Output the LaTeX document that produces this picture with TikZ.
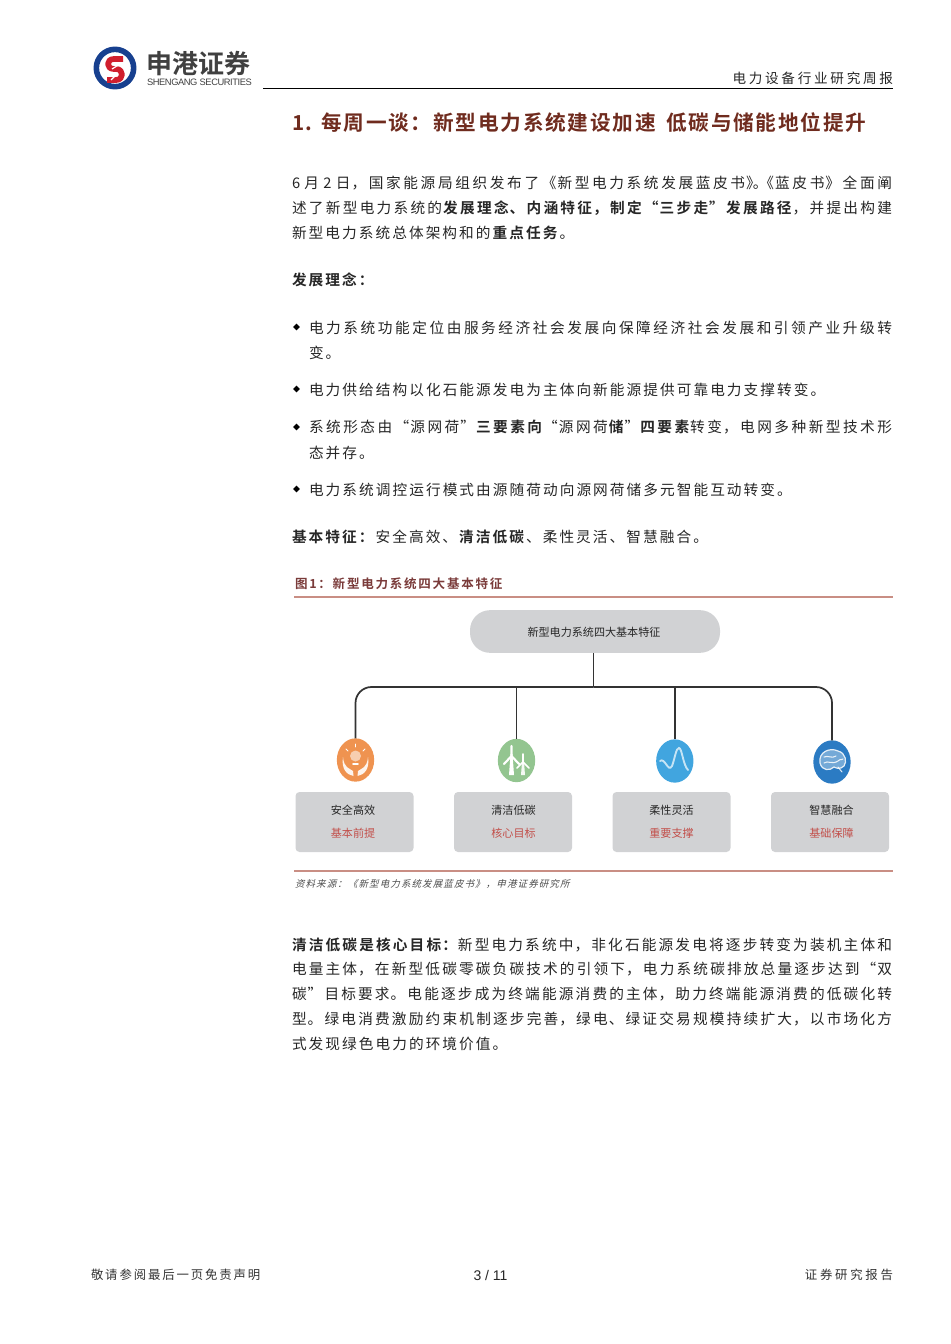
\documentclass[tikz,border=0pt]{standalone}
\usepackage{fontspec}
\usetikzlibrary{shapes.geometric,positioning}
\setmainfont{Noto Sans CJK SC}[BoldFont={Noto Sans CJK SC Bold}]
\newfontfamily\bodyfont{Noto Sans CJK SC}[LetterSpace=14,BoldFont={Noto Sans CJK SC Bold}]
\newfontfamily\fullfont{Noto Sans CJK SC}[LetterSpace=7,BoldFont={Noto Sans CJK SC Bold}]
\newfontfamily\titlefont{Noto Sans CJK SC Bold}[LetterSpace=8.5]
\newfontfamily\capfont{Noto Sans CJK SC Bold}[LetterSpace=14]
\newfontfamily\srcfont{Noto Sans CJK SC}[LetterSpace=12,FakeSlant=0.25]
\newfontfamily\footfont{Noto Sans CJK SC}[LetterSpace=15]
\newfontfamily\headfont{Noto Sans CJK SC}[LetterSpace=20]
\newfontfamily\latinfont{Liberation Sans}
\definecolor{boxgray}{HTML}{D1D2D4}
\definecolor{capred}{HTML}{7A3B3A}
\definecolor{rulered}{HTML}{C98E84}
\definecolor{titlered}{HTML}{6F2B1E}
\definecolor{tagred}{HTML}{C24F4A}
\definecolor{logoblue}{HTML}{17408F}
\definecolor{logored}{HTML}{D01F2E}
\definecolor{safeorange}{HTML}{EF9350}
\definecolor{cleangreen}{HTML}{93C590}
\definecolor{flexblue}{HTML}{41A5DF}
\definecolor{smartblue}{HTML}{2B7BC3}
\tikzset{every node/.style={inner sep=0pt,outer sep=0pt},
         body line/.style={anchor=base west,font=\bodyfont\fontsize{11pt}{12pt}\selectfont,text=black!85},
         full line/.style={anchor=base west,text width=#1,align=justify,font=\fullfont\fontsize{11pt}{12pt}\selectfont,text=black!85,
                           execute at begin node={\XeTeXlinebreaklocale "zh"\XeTeXlinebreakskip=0pt plus 1fil\parfillskip=0pt\relax}},
         bullet mark/.style={diamond,fill=black,minimum size=5pt},
         top box/.style={rectangle,rounded corners=15pt,fill=boxgray,minimum width=187.5pt,minimum height=32pt},
         feature box/.style={rectangle,rounded corners=3pt,fill=boxgray,minimum width=88.5pt,minimum height=45pt},
         icon disc/.style={ellipse,minimum width=28pt,minimum height=32.5pt},
         box name/.style={font=\fontsize{8.3pt}{10pt}\selectfont,text=black!85},
         box tag/.style={font=\fontsize{8.3pt}{10pt}\selectfont,text=tagred},
         link/.style={black!80,line width=1.3pt},
         icon line/.style={white,line width=1pt,line cap=round,line join=round},
}
\begin{document}
\begin{tikzpicture}[x=0.75pt,y=-0.75pt]
\useasboundingbox (0,0) rectangle (950,1344);

% header
\node[circle,draw=logoblue,line width=4.2pt,fill=white,minimum size=28pt] (ring) at (115,68) {};
\draw[logored,line width=4.3pt,line join=round] (123,59) -- (114,59) .. controls (106,59) and (106,69) .. (114,69) -- (116,69) .. controls (124,69) and (124,80) .. (116,80) -- (107,80);
\draw[white,line width=0.9pt] (112,69) -- (120,64);
\draw[white,line width=0.9pt] (111,80) -- (116,75);
\node[anchor=base west,font=\bfseries\fontsize{19.5pt}{22pt}\selectfont,text=black!75] (logozh) at (146,74) {申港证券};
\node[anchor=base west,font=\latinfont\fontsize{7pt}{8pt}\selectfont,text=black!75] (logoen) at (147,86) {\addfontfeature{LetterSpace=-4.5}SHENGANG SECURITIES};
\node[anchor=base east,font=\headfont\fontsize{10.2pt}{12pt}\selectfont,text=black!85] (headr) at (893,84) {电力设备行业研究周报};
\coordinate (ruleL) at (263,88.5);
\coordinate (ruleR) at (893,88.5);
\draw[black,line width=0.8pt] (ruleL) -- (ruleR);

% text
\node[anchor=base west,font=\titlefont\fontsize{15.5pt}{18pt}\selectfont,text=titlered] (title) at (292,131) {1. 每周一谈：新型电力系统建设加速\kern3pt{} 低碳与储能地位提升};
\node[full line=450pt] (p1) at (292,189) {6 月 2 日，国家能源局组织发布了《新型电力系统发展蓝皮书》\kern-6pt。\kern-6pt《蓝皮书》全面阐};
\node[full line=450pt] (p2) at (292,214) {述了新型电力系统的\textbf{发展理念、内涵特征，制定“三步走”发展路径}，并提出构建};
\node[body line] (p3) at (292,239) {新型电力系统总体架构和的\textbf{重点任务}。};
\node[body line] (h1) at (292,286) {\textbf{发展理念：}};
\node[bullet mark] (b1) at (296.5,327) {};
\node[full line=437.25pt] (l1) at (309,333) {电力系统功能定位由服务经济社会发展向保障经济社会发展和引领产业升级转};
\node[body line] (l2) at (309,358) {变。};
\node[bullet mark] (b2) at (296.5,389) {};
\node[body line] (l3) at (309,395) {电力供给结构以化石能源发电为主体向新能源提供可靠电力支撑转变。};
\node[bullet mark] (b3) at (296.5,427) {};
\node[full line=437.25pt] (l4) at (309,432) {系统形态由“源网荷”\textbf{三要素向}“源网荷\textbf{储}”\textbf{四要素}转变，电网多种新型技术形};
\node[body line] (l5) at (309,458) {态并存。};
\node[bullet mark] (b4) at (296.5,489) {};
\node[body line] (l6) at (309,495) {电力系统调控运行模式由源随荷动向源网荷储多元智能互动转变。};
\node[body line] (h2) at (292,542) {\textbf{基本特征：}安全高效、\textbf{清洁低碳}、柔性灵活、智慧融合。};

% figure
\node[anchor=base west,font=\capfont\fontsize{9.4pt}{11pt}\selectfont,text=capred] (cap) at (295,588) {图1：新型电力系统四大基本特征};
\coordinate (capL) at (294,597);
\coordinate (capR) at (893,597);
\draw[rulered,line width=0.8pt] (capL) -- (capR);

\node[top box] (top) at (595,631.5) {};
\node[box name] (toptext) at (594,632) {新型电力系统四大基本特征};

\node[icon disc,fill=safeorange] (safe) at (355.5,760) {};
\node[icon disc,fill=cleangreen] (clean) at (516.5,760.5) {};
\node[icon disc,fill=flexblue] (flex) at (674.8,761) {};
\node[icon disc,fill=smartblue] (smart) at (832,762) {};

\coordinate (hub) at (593.5,687);
\draw[link] (top.south -| hub) -- (hub);
\draw[link,rounded corners=12pt] (hub) -| (safe.north);
\draw[link,rounded corners=12pt] (hub) -| (smart.north);
\draw[link] (hub -| clean.north) -- (clean.north);
\draw[link] (hub -| flex.north) -- (flex.north);

% icons
\fill[white,opacity=0.55] (355.5,756) circle[radius=5.5];
\draw[icon line,line width=1.4pt] (353,764) -- (358,764);
\fill[white,opacity=0.9] (343,757) .. controls (344,768) and (349,768) .. (353,771) -- (353.5,776) .. controls (347,775) and (341,769) .. (343,757);
\fill[white,opacity=0.9] (368,757) .. controls (367,768) and (362,768) .. (358,771) -- (357.5,776) .. controls (364,775) and (370,769) .. (368,757);
\draw[icon line,line width=0.7pt] (355.5,744) -- (355.5,747);
\draw[icon line,line width=0.7pt] (346,749) -- (348,751);
\draw[icon line,line width=0.7pt] (365,749) -- (363,751);

\fill[white] (510.5,754) -- (512.5,754) -- (514,775) -- (509,775) -- cycle;
\draw[icon line,line width=1.6pt] (511.5,746) -- (511.5,756) (504,764) -- (511.5,756) -- (519,764);
\fill[white,opacity=0.9] (522,762) -- (524,762) -- (525,775) -- (521,775) -- cycle;
\draw[icon line,line width=1.2pt] (523,754) -- (523,763) (517,768) -- (523,762) -- (529,768);

\draw[white,opacity=0.7,line width=1.4pt,line cap=round] (660,761) .. controls (665,757) and (668,773) .. (672,766) .. controls (675,758) and (676,748) .. (679,748) .. controls (682,748) and (683,765) .. (688,770);

\fill[white,opacity=0.35] (820,763) .. controls (818,752) and (830,747) .. (838,751) .. controls (846,753) and (847,762) .. (844,766) .. controls (840,770) and (836,768) .. (834,767) .. controls (830,771) and (822,771) .. (820,763);
\draw[icon line,line width=0.9pt,opacity=0.85] (820,763) .. controls (818,752) and (830,747) .. (838,751) .. controls (846,753) and (847,762) .. (844,766) .. controls (840,770) and (836,768) .. (834,767) .. controls (830,771) and (822,771) .. (820,763);
\draw[icon line,line width=0.8pt,opacity=0.85] (824,757) .. controls (828,755) and (832,759) .. (836,756) (824,763) .. controls (828,760) and (832,765) .. (838,761) (838,761) .. controls (841,758) and (842,761) .. (843,759) (838,767) -- (842,772);

\node[feature box] (boxa) at (354.5,822) {};
\node[feature box] (boxb) at (513,822) {};
\node[feature box] (boxc) at (671.5,822) {};
\node[feature box] (boxd) at (830,822) {};
\node[box name] (namea) at (353,810.5) {安全高效};
\node[box tag] (taga) at (353,833.5) {基本前提};
\node[box name] (nameb) at (513.5,810.5) {清洁低碳};
\node[box tag] (tagb) at (513.5,833.5) {核心目标};
\node[box name] (namec) at (671.5,810.5) {柔性灵活};
\node[box tag] (tagc) at (671.5,833.5) {重要支撑};
\node[box name] (named) at (831.5,810.5) {智慧融合};
\node[box tag] (tagd) at (831.5,833.5) {基础保障};

\coordinate (srcL) at (294,871);
\coordinate (srcR) at (893,871);
\draw[rulered,line width=0.8pt] (srcL) -- (srcR);
\node[anchor=base west,font=\srcfont\fontsize{7.1pt}{9pt}\selectfont,text=black!70] (src) at (295,887) {资料来源：《新型电力系统发展蓝皮书》，申港证券研究所};

% text below the figure
\node[full line=450pt] (q1) at (292,950) {\textbf{清洁低碳是核心目标：}新型电力系统中，非化石能源发电将逐步转变为装机主体和};
\node[full line=450pt] (q2) at (292,974) {电量主体，在新型低碳零碳负碳技术的引领下，电力系统碳排放总量逐步达到“双};
\node[full line=450pt] (q3) at (292,999) {碳”目标要求。电能逐步成为终端能源消费的主体，助力终端能源消费的低碳化转};
\node[full line=450pt] (q4) at (292,1024) {型。绿电消费激励约束机制逐步完善，绿电、绿证交易规模持续扩大，以市场化方};
\node[body line] (q5) at (292,1049) {式发现绿色电力的环境价值。};

% footer
\node[anchor=base west,font=\footfont\fontsize{9.3pt}{11pt}\selectfont,text=black!80] (footl) at (91,1279) {敬请参阅最后一页免责声明};
\node[font=\latinfont\fontsize{10.5pt}{11pt}\selectfont,text=black!85] (footc) at (490.5,1275) {3 / 11};
\node[anchor=base east,font=\footfont\fontsize{9.3pt}{11pt}\selectfont,text=black!80] (footr) at (893,1279) {\addfontfeature{LetterSpace=22}证券研究报告};
\end{tikzpicture}
\end{document}
